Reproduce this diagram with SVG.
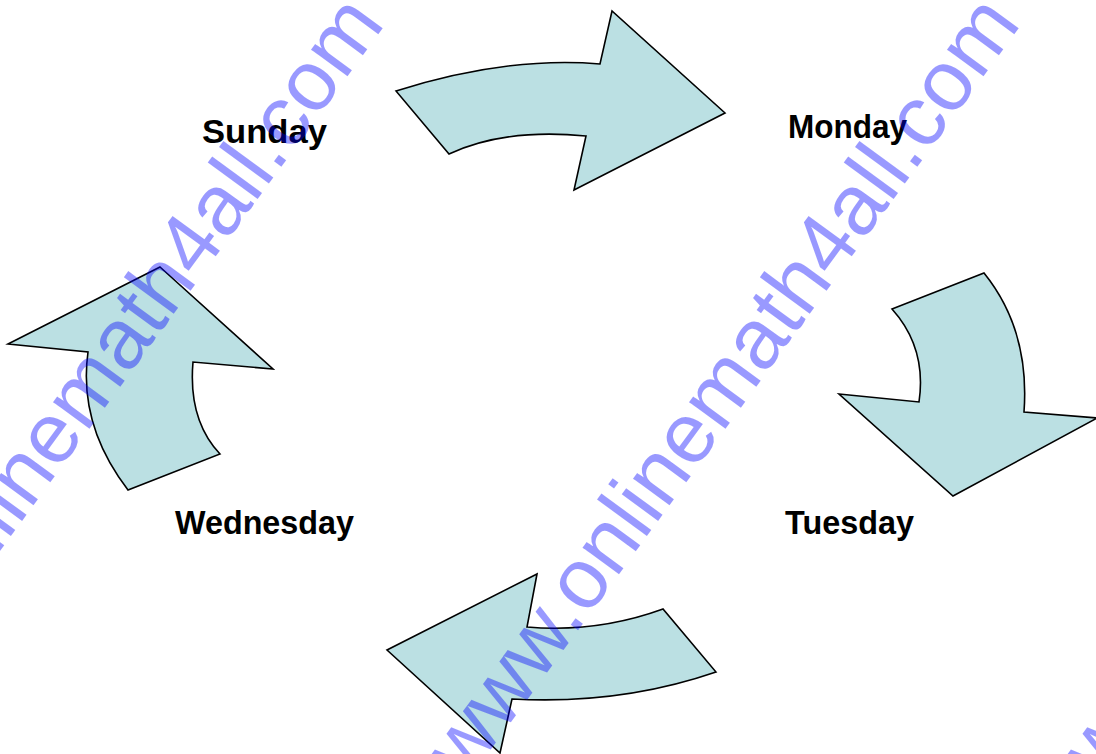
<svg xmlns="http://www.w3.org/2000/svg" width="1096" height="754" viewBox="0 0 1096 754">
  <style>
    .arrow { fill: #BBE0E3; stroke: #000000; stroke-width: 1.6; stroke-linejoin: miter; }
    .label { font-family: "Comic Sans MS", "Liberation Sans", "DejaVu Sans", sans-serif; font-weight: bold; font-size: 34px; fill: #000000; }
    .wm { font-family: "Liberation Sans", Arial, sans-serif; font-size: 85.4px; fill: #0000FF; fill-opacity: 0.4; }
  </style>
  <rect x="0" y="0" width="1096" height="754" fill="#FFFFFF"/>
  <g id="connectors">
    <path id="arrow-sun-mon" class="arrow" d="M396,91 Q507,56 600,64 L612,11 L725,113 L574,190 L586,136 Q505,128 449,154 Z"/>
    <path id="arrow-mon-tue" class="arrow" d="M892,309 L984,273 Q1030,330 1024,412 L1097,418 L953,496 L839,394 L919,402 Q927,348 892,309 Z"/>
    <path id="arrow-tue-wed" class="arrow" d="M537,574 L527,627 Q597,633 663,609 L716,672 Q620,705 512,699 L500,753 L387,650 Z"/>
    <path id="arrow-wed-sun" class="arrow" d="M160,267 L273,369 L193,362 Q188,420 220,454 L128,490 Q78,425 88,352 L8,344 Z"/>
  </g>
  <g id="node-sunday">
    <text class="label" x="202" y="143" textLength="125" lengthAdjust="spacingAndGlyphs">Sunday</text>
  </g>
  <g id="node-monday">
    <text class="label" x="788" y="138" textLength="119" lengthAdjust="spacingAndGlyphs">Monday</text>
  </g>
  <g id="node-tuesday">
    <text class="label" x="785" y="534" textLength="129" lengthAdjust="spacingAndGlyphs">Tuesday</text>
  </g>
  <g id="node-wednesday">
    <text class="label" x="175" y="534" textLength="179" lengthAdjust="spacingAndGlyphs">Wednesday</text>
  </g>
  <g id="watermark">
    <text class="wm" transform="translate(-169,782) rotate(-53.8)">www.onlinemath4all.com</text>
    <text class="wm" transform="translate(467,782) rotate(-53.8)">www.onlinemath4all.com</text>
    <text class="wm" transform="translate(1103,782) rotate(-53.8)">www.onlinemath4all.com</text>
  </g>
</svg>
